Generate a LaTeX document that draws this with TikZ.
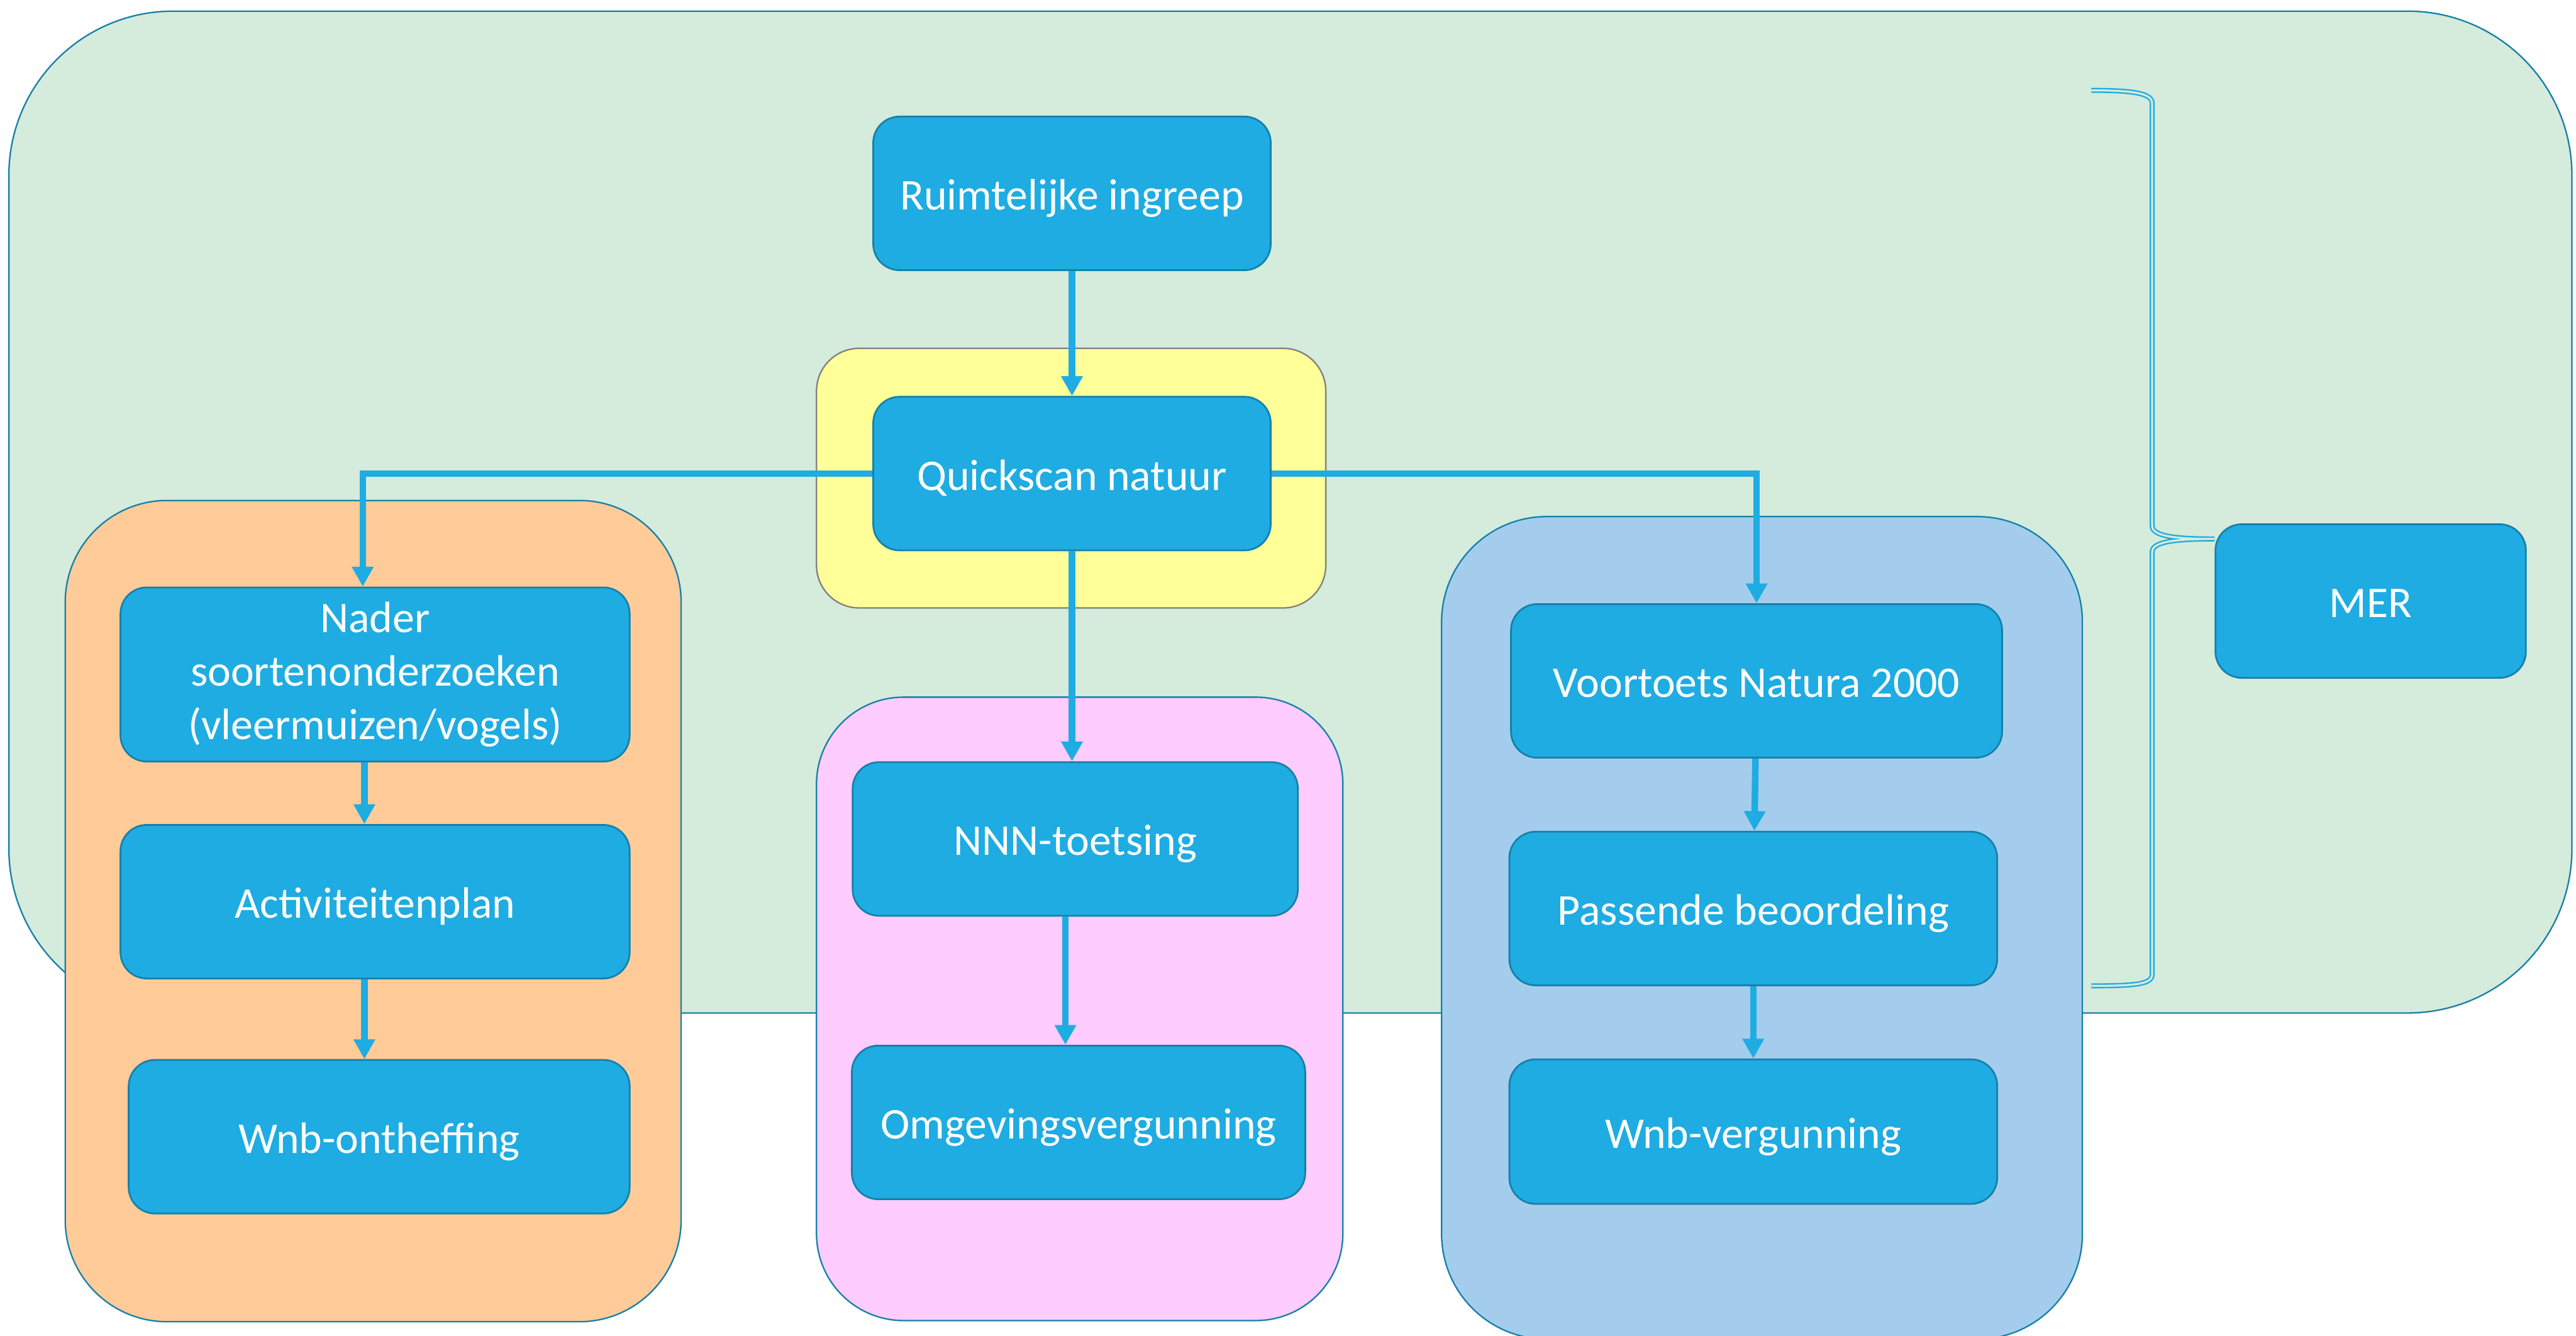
\documentclass[tikz,border=0pt]{standalone}
\usepackage{fontspec}
\setmainfont{Carlito}
\usepackage{xcolor}
\usetikzlibrary{arrows.meta,positioning}

\definecolor{bggreen}{RGB}{213,235,220}
\definecolor{boxblue}{RGB}{30,172,226}
\definecolor{edgeblue}{RGB}{22,128,168}
\definecolor{qsyellow}{RGB}{255,255,153}
\definecolor{wnborange}{RGB}{255,204,153}
\definecolor{nnnpink}{RGB}{255,204,255}
\definecolor{n2klblue}{RGB}{164,205,237}

\begin{document}
\begin{tikzpicture}[x=0.02cm, y=-0.02cm,
  boxbase/.style={rectangle, draw=edgeblue, fill=boxblue, line width=0.6pt, rounded corners=0.32cm, minimum height=1.87cm, text=white, align=center, inner sep=2pt, font=\fontsize{15.2}{18.5}\selectfont},
  stepbox/.style={boxbase, text height=0.5cm, text depth=0.1cm},
  zone/.style={draw=edgeblue, line width=0.5pt},
  merbrace/.style={draw=boxblue, double=bggreen, double distance=0.025cm, line width=0.018cm},
  line/.style={draw=boxblue, line width=0.08cm, -{Triangle[length=0.24cm, width=0.25cm]}}]

  \path [use as bounding box, clip] (0,0) rectangle (1568,813);
  \fill [white] (0,0) rectangle (1568,813);

  % Zones
  \draw [zone, fill=bggreen, rounded corners=2cm] (5.4,6.8) rectangle (1565.5,616.5);
  \draw [fill=qsyellow, draw=gray, line width=0.5pt, rounded corners=0.52cm] (497,212) rectangle (807,370);
  \draw [zone, fill=wnborange, rounded corners=1.24cm] (39.7,304.6) rectangle (414.6,804.4);
  \draw [zone, fill=nnnpink, rounded corners=1.06cm] (497,424.3) rectangle (817.4,803.7);
  \draw [zone, fill=n2klblue, rounded corners=1.28cm] (877.5,314.4) rectangle (1267.5,815);

  % Top: ingreep and quickscan
  \node [stepbox, minimum width=4.84cm] (ingreep) at (652.5,117.7) {Ruimtelijke ingreep};
  \node [stepbox, minimum width=4.84cm, below=1.52cm of ingreep] (quick) {Quickscan natuur};

  % Left column: soorten
  \node [boxbase, minimum width=6.2cm, minimum height=2.12cm] (nader) at (228.3,410.5) {Nader\\soortenonderzoeken\\(vleermuizen/vogels)};
  \node [stepbox, minimum width=6.2cm, below=0.75cm of nader] (activ) {Activiteitenplan};
  \node [stepbox, minimum width=6.1cm, below=0.97cm of activ, xshift=0.05cm] (wnbont) {Wnb-ontheffing};

  % Middle column: NNN
  \node [stepbox, minimum width=5.42cm] (nnn) at (654.5,510.6) {NNN-toetsing};
  \node [stepbox, minimum width=5.52cm, below=1.56cm of nnn, xshift=0.04cm] (omg) {Omgevingsvergunning};

  % Right column: Natura 2000
  \node [stepbox, minimum width=5.98cm] (voort) at (1069.2,414.4) {Voortoets Natura 2000};
  \node [stepbox, minimum width=5.94cm, below=0.88cm of voort, xshift=-0.04cm] (passend) {Passende beoordeling};
  \node [stepbox, minimum width=5.94cm, minimum height=1.76cm, below=0.88cm of passend] (wnbverg) {Wnb-vergunning};

  % MER with brace
  \node [stepbox, minimum width=3.78cm] (mer) at (1443,365.8) {MER};
  \draw [merbrace] (1273,55) .. controls (1300,55) and (1310,57) .. (1310,63) -- (1310,320)
    .. controls (1310,326) and (1322,328) .. (1348,328)
    .. controls (1322,328) and (1310,330) .. (1310,336) -- (1310,593)
    .. controls (1310,599) and (1300,600) .. (1273,600);

  % Connectors
  \path [line] (ingreep) -- (quick);
  \path [line] (quick.west) -| ([xshift=-0.15cm]nader.north);
  \path [line] ([xshift=-0.13cm]nader.south) -- ([xshift=-0.13cm]nader.south |- activ.north);
  \path [line] ([xshift=-0.13cm]activ.south) -- ([xshift=-0.13cm]activ.south |- wnbont.north);
  \path [line] (quick.south) -- (quick.south |- nnn.north);
  \path [line] ([xshift=-0.12cm]nnn.south) -- ([xshift=-0.12cm]nnn.south |- omg.north);
  \path [line] (quick.east) -| (voort.north);
  \path [line] (voort) -- (passend);
  \path [line] (passend) -- (wnbverg);
\end{tikzpicture}
\end{document}
